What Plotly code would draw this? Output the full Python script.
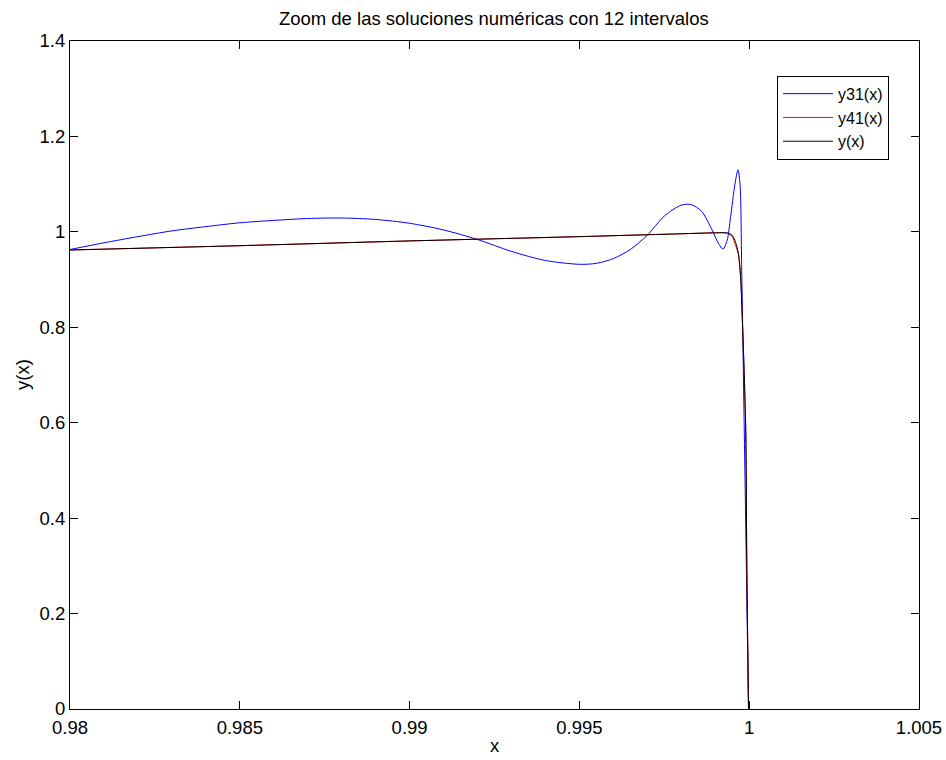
import plotly.graph_objects as go

# Numerical solution with the 3-1 scheme (12 intervals), zoomed near x = 1
x31 = [0.98000, 0.98100, 0.98200, 0.98300, 0.98400, 0.98500, 0.98600, 0.98700,
       0.98800, 0.98900, 0.99000, 0.99100, 0.99200, 0.99300, 0.99400, 0.99500,
       0.99550, 0.99600, 0.99650, 0.99700, 0.99750, 0.99800, 0.99830, 0.99860,
       0.99890, 0.99910, 0.99923, 0.99935, 0.99945, 0.99958, 0.99967, 0.99973,
       0.99978, 0.99998]
y31 = [0.963, 0.977, 0.990, 1.002, 1.011, 1.019, 1.024, 1.028,
       1.029, 1.026, 1.018, 1.004, 0.984, 0.959, 0.940, 0.932,
       0.934, 0.944, 0.963, 0.993, 1.033, 1.056, 1.057, 1.043,
       1.005, 0.975, 0.964, 0.982, 1.030, 1.100, 1.130, 1.100,
       0.919, 0.000]

# Numerical solution with the 4-1 scheme
x41 = [0.98000, 0.98500, 0.99000, 0.99500, 0.99800, 0.99900, 0.99935, 0.99950,
       0.99959, 0.99968, 0.99975, 0.99980, 0.99985, 0.99990, 0.99993, 0.99998]
y41 = [0.962, 0.971, 0.981, 0.990, 0.996, 0.998, 0.997, 0.990,
       0.974, 0.953, 0.904, 0.812, 0.710, 0.580, 0.300, 0.000]

# Exact solution
xex = [0.98000, 0.98500, 0.99000, 0.99500, 0.99800, 0.99900, 0.99935, 0.99950,
       0.99960, 0.99969, 0.99975, 0.99980, 0.99985, 0.99990, 0.99993, 0.99998]
yex = [0.962, 0.971, 0.981, 0.990, 0.996, 0.998, 0.998, 0.993,
       0.978, 0.952, 0.900, 0.812, 0.710, 0.580, 0.300, 0.000]

x_ticks = [0.98, 0.985, 0.99, 0.995, 1.0, 1.005]
x_tick_text = ["0.98", "0.985", "0.99", "0.995", "1", "1.005"]
y_ticks = [0, 0.2, 0.4, 0.6, 0.8, 1.0, 1.2, 1.4]
y_tick_text = ["0", "0.2", "0.4", "0.6", "0.8", "1", "1.2", "1.4"]

FONT = "Liberation Sans, Arial, sans-serif"
FS = 18.5

fig = go.Figure()
fig.add_trace(go.Scatter(x=x31, y=y31, mode="lines", name="y31(x)",
                         line=dict(color="#0000ff", width=1, shape="spline", smoothing=0.8)))
fig.add_trace(go.Scatter(x=x41, y=y41, mode="lines", name="y41(x)",
                         line=dict(color="#ff0000", width=1, shape="spline", smoothing=0.6)))
fig.add_trace(go.Scatter(x=xex, y=yex, mode="lines", name="y(x)",
                         line=dict(color="#000000", width=1, shape="spline", smoothing=0.6)))

axis_common = dict(
    showline=True, linecolor="black", linewidth=1, mirror="ticks",
    ticks="inside", ticklen=8, tickcolor="black", tickwidth=1,
    showgrid=False, zeroline=False, automargin=False,
    tickfont=dict(family=FONT, size=FS, color="black"),
)

fig.update_layout(
    width=946, height=760,
    margin=dict(l=70, r=27, t=41, b=51),
    paper_bgcolor="white", plot_bgcolor="white",
    font=dict(family=FONT, size=FS, color="black"),
    title=dict(text="Zoom de las soluciones numéricas con 12 intervalos",
               x=0.522, xanchor="center", y=0.976, yanchor="middle",
               font=dict(family=FONT, size=FS, color="black")),
    xaxis=dict(range=[0.98, 1.005], tickvals=x_ticks, ticktext=x_tick_text,
               ticklabelstandoff=2, **axis_common),
    yaxis=dict(range=[0, 1.4], tickvals=y_ticks, ticktext=y_tick_text,
               **axis_common),
    legend=dict(x=0.9647, xanchor="right", y=0.948, yanchor="top",
                bgcolor="white", bordercolor="black", borderwidth=1,
                itemwidth=50,
                font=dict(family=FONT, size=16, color="black")),
    showlegend=True,
    annotations=[
        dict(text="x", xref="paper", yref="paper", x=0.5, y=-0.054,
             xanchor="center", yanchor="middle", showarrow=False,
             font=dict(family=FONT, size=FS, color="black")),
        dict(text="y(x)", xref="paper", yref="paper", x=-0.0565, y=0.5,
             xanchor="center", yanchor="middle", showarrow=False, textangle=-90,
             font=dict(family=FONT, size=FS, color="black")),
    ],
)

fig.write_html("out.html")
